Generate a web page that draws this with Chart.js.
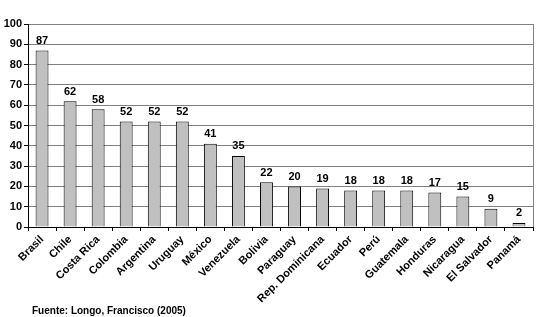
<!DOCTYPE html>
<html>
<head>
<meta charset="utf-8">
<script src="https://cdn.jsdelivr.net/npm/chart.js@4/dist/chart.umd.min.js"></script>
<style>
  html, body { margin: 0; padding: 0; background: #fff; }
  #wrap { width: 544px; height: 317px; position: relative; }
</style>
</head>
<body>
<div id="wrap"><canvas id="chart"></canvas></div>
<script>
const countries = ["Brasil", "Chile", "Costa Rica", "Colombia", "Argentina", "Uruguay", "México", "Venezuela", "Bolivia", "Paraguay", "Rep. Dominicana", "Ecuador", "Perú", "Guatemala", "Honduras", "Nicaragua", "El Salvador", "Panamá"];
const values = [87, 62, 58, 52, 52, 52, 41, 35, 22, 20, 19, 18, 18, 18, 17, 15, 9, 2];
const sourceNote = "Fuente: Longo, Francisco (2005)";

const FONT = "Arial, 'Liberation Sans', sans-serif";

// value labels, right border and source line
const extras = {
    id: "extras",
    afterDatasetsDraw(chart) {
        const ctx = chart.ctx;
        const meta = chart.getDatasetMeta(0);
        ctx.save();
        ctx.fillStyle = "#000";
        ctx.font = "bold 11px " + FONT;
        ctx.textAlign = "center";
        ctx.textBaseline = "bottom";
        meta.data.forEach((bar, i) => {
            ctx.fillText(values[i], bar.x, bar.y - 4);
        });
        const a = chart.chartArea;
        ctx.strokeStyle = "#808080";
        ctx.lineWidth = 1;
        ctx.beginPath();
        ctx.moveTo(Math.round(a.right) + 0.5, a.top);
        ctx.lineTo(Math.round(a.right) + 0.5, a.bottom);
        ctx.stroke();
        ctx.font = "bold 10px " + FONT;
        ctx.textAlign = "left";
        ctx.textBaseline = "middle";
        ctx.fillText(sourceNote, 32, 311);
        ctx.restore();
    }
};

new Chart(document.getElementById("chart"), {
    type: "bar",
    data: {
        labels: countries,
        datasets: [{
            data: values,
            backgroundColor: "#c0c0c0",
            borderColor: "#000",
            borderWidth: 1,
            barPercentage: 0.46,
            categoryPercentage: 1
        }]
    },
    options: {
        responsive: true,
        maintainAspectRatio: false,
        animation: false,
        layout: { padding: { top: 24, right: 11, left: 0, bottom: 0 } },
        plugins: { legend: { display: false }, tooltip: { enabled: false } },
        scales: {
            x: {
                offset: true,
                afterFit: s => { s.height = 90; },
                grid: { display: true, drawOnChartArea: false, offset: true, tickLength: 4, color: "#000" },
                border: { color: "#000" },
                ticks: {
                    color: "#000",
                    font: { family: FONT, size: 11, weight: "bold" },
                    maxRotation: 45,
                    minRotation: 45,
                    autoSkip: false,
                    padding: 2
                }
            },
            y: {
                min: 0,
                max: 100,
                afterFit: s => { s.width = 28; },
                grid: { color: "#808080", tickLength: 4, tickColor: "#000" },
                border: { color: "#000" },
                ticks: {
                    stepSize: 10,
                    color: "#000",
                    font: { family: FONT, size: 11, weight: "bold" },
                    padding: 2
                }
            }
        }
    },
    plugins: [extras]
});
</script>
</body>
</html>
